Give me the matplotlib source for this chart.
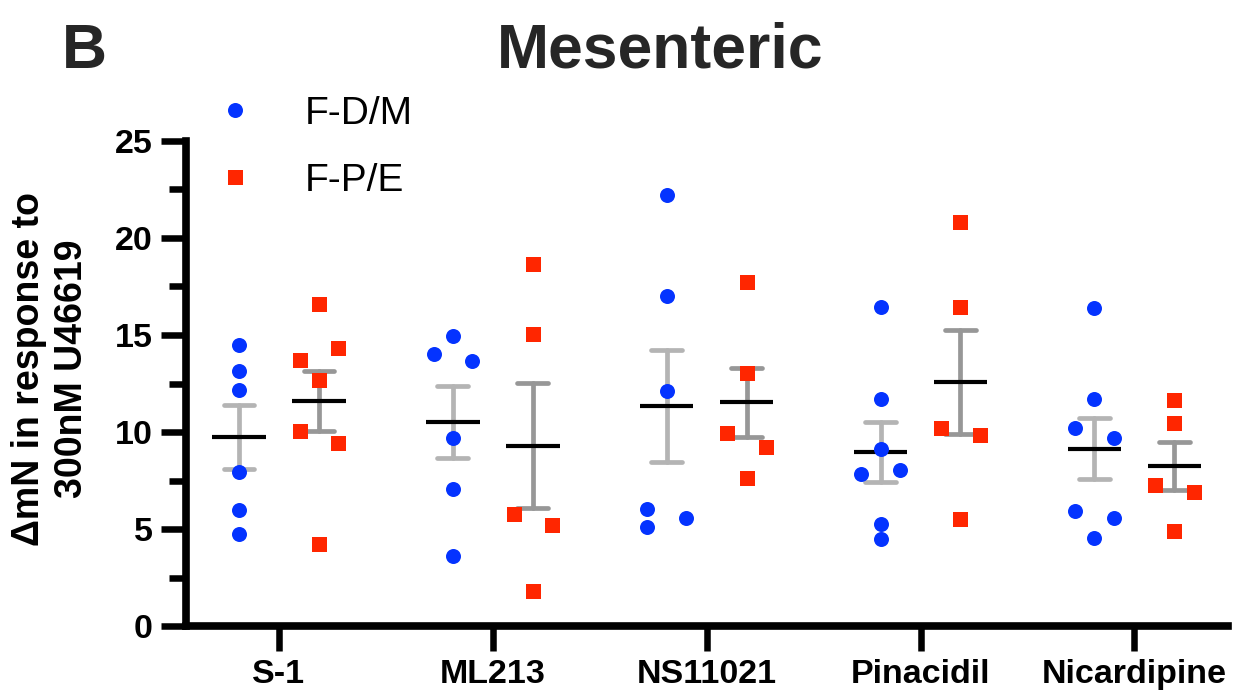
import numpy as np
import matplotlib
matplotlib.use("Agg")
import matplotlib.pyplot as plt
from matplotlib.lines import Line2D

plt.rcParams['font.family'] = ['Liberation Sans', 'DejaVu Sans']

# ---------------- data ----------------
categories = ["S-1", "ML213", "NS11021", "Pinacidil", "Nicardipine"]
series_names = ["F-D/M", "F-P/E"]

fdm_s1 = [14.47, 13.12, 12.18, 7.96, 5.97, 4.73]
fdm_ml213 = [14.97, 14.03, 13.67, 9.67, 7.05, 3.60]
fdm_ns11021 = [22.24, 17.03, 12.09, 6.02, 5.59, 5.08]
fdm_pinacidil = [16.43, 11.71, 9.12, 8.02, 7.83, 5.28, 4.48]
fdm_nicardipine = [16.39, 11.68, 10.19, 9.67, 5.93, 5.56, 4.56]

fpe_s1 = [16.60, 14.34, 13.72, 12.69, 10.07, 9.45, 4.25]
fpe_ml213 = [18.66, 15.06, 5.75, 5.23, 1.78]
fpe_ns11021 = [17.73, 13.05, 9.96, 9.24, 7.65]
fpe_pinacidil = [20.82, 16.45, 10.22, 9.86, 5.54]
fpe_nicardipine = [11.66, 10.48, 7.29, 6.93, 4.92]

yticks = [0, 5, 10, 15, 20, 25]

# ---------------- layout (scatter column slots, not data) ----------------
slots_fdm = [[0, 0, 0, 0, 0, 0],
             [0, -1, 1, 0, 0, 0],
             [0, 0, 0, -1, 1, -1],
             [0, 0, 0, 1, -1, 0, 0],
             [0, 0, -1, 1, -1, 1, 0]]
slots_fpe = [[0, 1, -1, 0, -1, 1, 0],
             [0, 0, -1, 1, 0],
             [0, 0, -1, 1, 0],
             [0, 0, -1, 1, 0],
             [0, 0, -1, 1, 0]]

fdm = [fdm_s1, fdm_ml213, fdm_ns11021, fdm_pinacidil, fdm_nicardipine]
fpe = [fpe_s1, fpe_ml213, fpe_ns11021, fpe_pinacidil, fpe_nicardipine]

BLUE = "#0433FF"
RED = "#FF2600"
GRAY_FDM = "#b4b4b4"
GRAY_FPE = "#979797"

W, H = 1246, 699
fig = plt.figure(figsize=(W / 100, H / 100), dpi=100)
ax = fig.add_axes([186 / W, 1 - 626 / H, (1228 - 186) / W, (626 - 141) / H])

group_off = 0.187
jit = 0.0903
mean_hw = 0.125
cap_hw = 0.072


def draw_group(values, slots, xc, color, ecolor, marker):
    v = np.asarray(values, float)
    m = v.mean()
    sem = v.std(ddof=1) / np.sqrt(len(v))
    lo, hi = m - sem, m + sem
    kw = dict(color=ecolor, lw=3.4, solid_capstyle='round', zorder=2)
    ax.plot([xc, xc], [lo, hi], **kw)
    ax.plot([xc - cap_hw, xc + cap_hw], [hi, hi], **kw)
    ax.plot([xc - cap_hw, xc + cap_hw], [lo, lo], **kw)
    ax.plot([xc - mean_hw, xc + mean_hw], [m, m], color='black', lw=3.0,
            solid_capstyle='butt', zorder=3)
    xs = xc + jit * np.asarray(slots)
    ax.plot(xs, v, linestyle='none', marker=marker, ms=10.8, color=color,
            markeredgewidth=0, zorder=4)


for i in range(len(categories)):
    draw_group(fdm[i], slots_fdm[i], i - group_off, BLUE, GRAY_FDM, 'o')
    draw_group(fpe[i], slots_fpe[i], i + group_off, RED, GRAY_FPE, 's')

ax.set_xlim(-0.435, 4.438)
ax.set_ylim(0, 25)
ax.set_xticks(range(len(categories)))
ax.set_xticklabels(categories)
ax.set_yticks(yticks)
ax.set_yticks(np.arange(2.5, 25, 5), minor=True)

for s in ['top', 'right']:
    ax.spines[s].set_visible(False)
for s in ['left', 'bottom']:
    ax.spines[s].set_linewidth(5.5)
    ax.spines[s].set_capstyle('projecting')

ax.tick_params(axis='both', which='major', length=18, width=4.7, color='black',
               labelsize=24.5)
ax.tick_params(axis='y', which='minor', length=12, width=4.7, color='black')
ax.tick_params(axis='y', which='major', pad=6)
ax.tick_params(axis='x', which='major', pad=6)
for lab in ax.get_xticklabels() + ax.get_yticklabels():
    lab.set_fontweight('bold')

# y label
fig.text(51 / W, 1 - 369 / H, "\u0394mN in response to\n300nM U46619",
         rotation=90, ha='center', va='center', multialignment='center',
         fontsize=27, fontweight='bold', linespacing=1.25)

# title and panel letter
fig.text(660 / W, 1 - 68 / H, "Mesenteric", ha='center', va='baseline',
         fontsize=45, fontweight='bold', color='#262626')
fig.text(62 / W, 1 - 68 / H, "B", ha='left', va='baseline',
         fontsize=45, fontweight='bold', color='#262626')

# legend
handles = [Line2D([], [], linestyle='none', marker='o', ms=10.8, color=BLUE, markeredgewidth=0),
           Line2D([], [], linestyle='none', marker='s', ms=10.8, color=RED, markeredgewidth=0)]
leg = fig.legend(handles, series_names, loc='upper left',
                 bbox_to_anchor=(216 / W, 1 - 96 / H), frameon=False,
                 fontsize=28, handlelength=1.0, handletextpad=1.27,
                 labelspacing=0.8, borderpad=0, borderaxespad=0)

fig.savefig("out.png", dpi=100)
